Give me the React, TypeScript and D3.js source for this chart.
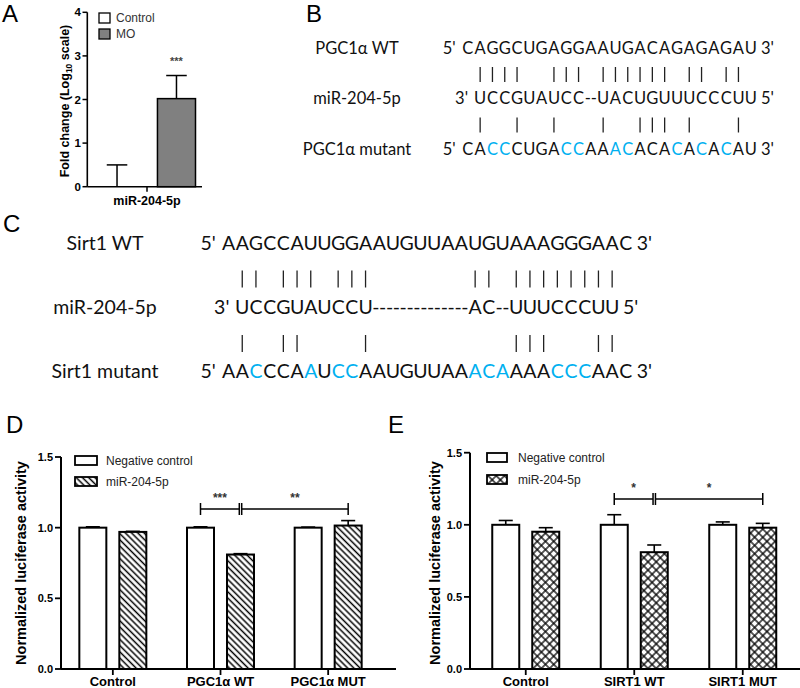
import * as d3 from 'd3';

const FONT_CHART = "'Liberation Sans', Arial, sans-serif";
const FONT_SEQ = "Lato, 'Open Sans', sans-serif";
const BLUE = '#00B0F0';

// ---------- Panel A: miR-204-5p fold change ----------
const aGroups = ['miR-204-5p'];
const aSeries = ['Control', 'MO'];
const aMeans = [0, 2.02];
const aSems = [0.5, 0.53];
const aTicks = [0, 1, 2, 3, 4];
const aSig = '***';

// ---------- Panel B: PGC1a target site ----------
const bLabels = ['PGC1α WT', 'miR-204-5p', 'PGC1α mutant'];
const bWT = 'CAGGCUGAGGAAUGACAGAGAGAU';
const bMir = ' UCCGUAUCC-UACUGUUUCCCUU';
const bMut = 'CACCCUGACCAAACACACACACAU';

// ---------- Panel C: Sirt1 target site ----------
const cLabels = ['Sirt1 WT', 'miR-204-5p', 'Sirt1 mutant'];
const cWT = 'AAGCCAUUGGAAUGUUAAUGUAAAGGGAAC';
const cMir = ' UCCGUAUCCU-------AC-UUUCCCUU';
const cMut = 'AACCCAAUCCAAUGUUAAACAAAACCCAAC';

// ---------- Panels D / E: luciferase ----------
const lucTicks = [0, 0.5, 1.0, 1.5];
const lucLegend = ['Negative control', 'miR-204-5p'];

const dGroups = ['Control', 'PGC1α WT', 'PGC1α MUT'];
const dNC = [1.0, 1.0, 1.0];
const dNCsem = [0.006, 0.006, 0.004];
const dMir = [0.97, 0.81, 1.015];
const dMirSem = [0.004, 0.006, 0.035];
const dSig = [
  { a: [1, 'nc'], b: [1, 'mir'], label: '***' },
  { a: [1, 'mir'], b: [2, 'mir'], label: '**' },
];

const eGroups = ['Control', 'SIRT1 WT', 'SIRT1 MUT'];
const eNC = [1.0, 1.0, 1.0];
const eNCsem = [0.03, 0.07, 0.02];
const eMir = [0.952, 0.81, 0.98];
const eMirSem = [0.028, 0.05, 0.03];
const eSig = [
  { a: [1, 'nc'], b: [1, 'mir'], label: '*' },
  { a: [1, 'mir'], b: [2, 'mir'], label: '*' },
];

const complement: Record<string, string> = { A: 'U', U: 'A', G: 'C', C: 'G' };
const isBase = (ch?: string) => !!ch && 'ACGU'.includes(ch);

// panel letters
const PanelLetter = ({ x, y, t }: { x: number; y: number; t: string }) => (
  <text x={x} y={y} fontFamily={FONT_CHART} fontSize={24} fill="#000">{t}</text>
);

function PanelA() {
  const y = d3.scaleLinear().domain([0, 4]).range([186.7, 12.3]);
  const x = d3.scaleBand().domain(aGroups).range([87.3, 206.7]);
  const inner = d3.scaleBand().domain(aSeries).range([-49, 48.5]).paddingInner(0.36);
  const bw = inner.bandwidth();
  const cx = (x(aGroups[0]) as number) + x.bandwidth() / 2;
  const fills = ['#ffffff', '#808080'];
  return (
    <g fontFamily={FONT_CHART}>
      <PanelLetter x={2} y={22} t="A" />
      {aSeries.map((s, i) => {
        const x0 = cx + (inner(s) as number);
        const mx = x0 + bw / 2;
        const top = y(aMeans[i]);
        const eTop = y(aMeans[i] + aSems[i]);
        return (
          <g key={s}>
            <line x1={mx} x2={mx} y1={top} y2={eTop} stroke="#000" strokeWidth={1.5} />
            <line x1={mx - bw * 0.27} x2={mx + bw * 0.27} y1={eTop} y2={eTop} stroke="#000" strokeWidth={1.5} />
            <rect x={x0} y={top} width={bw} height={y(0) - top} fill={fills[i]} stroke="#000" strokeWidth={1.5} />
            {i === 1 && (
              <text x={mx} y={eTop - 11} textAnchor="middle" fontSize={11} fontWeight="bold" fill="#444">{aSig}</text>
            )}
          </g>
        );
      })}
      {/* axes */}
      <line x1={87.3} x2={87.3} y1={y(4)} y2={y(0)} stroke="#000" strokeWidth={1.6} />
      <line x1={87.3} x2={202} y1={y(0)} y2={y(0)} stroke="#000" strokeWidth={1.6} />
      <line x1={cx} x2={cx} y1={y(0)} y2={y(0) + 5} stroke="#000" strokeWidth={1.5} />
      {aTicks.map((t) => (
        <g key={t}>
          <line x1={82.5} x2={87.3} y1={y(t)} y2={y(t)} stroke="#000" strokeWidth={1.5} />
          <text x={81} y={y(t)} dy="0.36em" textAnchor="end" fontSize={11.5} fontWeight="bold">{t}</text>
        </g>
      ))}
      <text x={cx} y={205} textAnchor="middle" fontSize={12.5} fontWeight="bold">{aGroups[0]}</text>
      <text transform="translate(69,101) rotate(-90)" textAnchor="middle" fontSize={12.5} fontWeight="bold">
        Fold change (Log<tspan dy={3} fontSize={8.5}>10</tspan><tspan dy={-3}> scale)</tspan>
      </text>
      {/* legend */}
      {aSeries.map((s, i) => (
        <g key={s}>
          <rect x={99} y={13 + i * 16} width={11} height={10} fill={fills[i]} stroke="#000" strokeWidth={1.3} />
          <text x={116} y={22 + i * 16} fontSize={12} fill="#333">{s}</text>
        </g>
      ))}
    </g>
  );
}

type SeqLayout = {
  x0: number; pitch: number; fs: number; rows: number[]; labelX: number;
  bar: [number, number]; letter: string; letterX: number; letterY: number;
};

function SeqRow({ seq, ref0, L, y, prefix, suffix }: { seq: string; ref0?: string; L: SeqLayout; y: number; prefix: string; suffix: string }) {
  const left = (c: number) => L.x0 + L.pitch * c;
  const mid = (c: number) => L.x0 + L.pitch * (c + 0.5);
  const first = seq.search(/\S/);
  const last = seq.length - 1;
  // contiguous segments of letters / gaps
  const segs: { gap: boolean; cols: number[] }[] = [];
  for (let i = first; i <= last; i++) {
    const gap = seq[i] === '-';
    const prev = segs[segs.length - 1];
    if (prev && prev.gap === gap) prev.cols.push(i);
    else segs.push({ gap, cols: [i] });
  }
  return (
    <g fontFamily={FONT_SEQ} fontSize={L.fs} fill="#111">
      <text x={left(first) - 6} y={y} textAnchor="end">{prefix}</text>
      {segs.map((sg, k) => {
        if (sg.gap) {
          // two dashes per empty column
          const xs: number[] = [];
          sg.cols.forEach((c) => {
            xs.push(left(c) + L.pitch * 0.25, left(c) + L.pitch * 0.75);
          });
          return (
            <text key={k} x={xs.join(' ')} y={y} textAnchor="middle">{'-'.repeat(xs.length)}</text>
          );
        }
        // colour runs inside the letter segment
        const runs: { cols: number[]; text: string; blue: boolean }[] = [];
        sg.cols.forEach((c) => {
          const blue = !!ref0 && ref0[c] !== seq[c];
          const prev = runs[runs.length - 1];
          if (prev && prev.blue === blue) {
            prev.cols.push(c);
            prev.text += seq[c];
          } else runs.push({ cols: [c], text: seq[c], blue });
        });
        return (
          <text key={k} y={y} textAnchor="middle">
            {runs.map((r, j) => (
              <tspan key={j} x={r.cols.map(mid).join(' ')} fill={r.blue ? BLUE : '#111'}>{r.text}</tspan>
            ))}
          </text>
        );
      })}
      <text x={left(last + 1) + 4} y={y}>{suffix}</text>
    </g>
  );
}

function PairBars({ top, bottom, L, y }: { top: string; bottom: string; L: SeqLayout; y: number }) {
  const cols: number[] = [];
  for (let i = 0; i < Math.max(top.length, bottom.length); i++) {
    if (isBase(top[i]) && isBase(bottom[i]) && complement[top[i]] === bottom[i]) cols.push(i);
  }
  return (
    <g stroke="#222" strokeWidth={1.3}>
      {cols.map((c) => {
        const x = L.x0 + L.pitch * (c + 0.5);
        return <line key={c} x1={x} x2={x} y1={y + L.bar[0]} y2={y + L.bar[1]} />;
      })}
    </g>
  );
}

function SeqPanel({ labels, wt, mir, mut, L }: { labels: string[]; wt: string; mir: string; mut: string; L: SeqLayout }) {
  const [y1, y2, y3] = L.rows;
  return (
    <g>
      <PanelLetter x={L.letterX} y={L.letterY} t={L.letter} />
      {labels.map((lab, i) => (
        <text key={lab} x={L.labelX} y={L.rows[i]} textAnchor="middle" fontFamily={FONT_SEQ} fontSize={L.fs} fill="#111">{lab}</text>
      ))}
      <SeqRow seq={wt} L={L} y={y1} prefix="5'" suffix="3'" />
      <PairBars top={wt} bottom={mir} L={L} y={y1} />
      <SeqRow seq={mir} L={L} y={y2} prefix="3'" suffix="5'" />
      <PairBars top={mir} bottom={mut} L={L} y={y2} />
      <SeqRow seq={mut} ref0={wt} L={L} y={y3} prefix="5'" suffix="3'" />
    </g>
  );
}

const bLayout: SeqLayout = {
  x0: 461.7, pitch: 12.3, fs: 16.5, rows: [53.5, 104, 154.5], labelX: 357,
  bar: [13.5, 28.5], letter: 'B', letterX: 306, letterY: 22,
};
const cLayout: SeqLayout = {
  x0: 221.7, pitch: 13.7, fs: 19.5, rows: [249.5, 314, 378], labelX: 105,
  bar: [21, 38], letter: 'C', letterX: 3, letterY: 232,
};

type LucCfg = {
  letter: string; letterX: number; groups: string[];
  nc: number[]; ncSem: number[]; mir: number[]; mirSem: number[];
  sig: { a: (number | string)[]; b: (number | string)[]; label: string }[];
  pattern: string; axisX: number; axisEnd: number; xRange: [number, number]; yRange: [number, number];
  ylabX: number; legX: number; legY: number[]; legW: number; legTextX: number; bracketY: number;
};

function LucPanel({ c }: { c: LucCfg }) {
  const y = d3.scaleLinear().domain([0, 1.5]).range(c.yRange);
  const x = d3.scaleBand().domain(c.groups).range(c.xRange);
  const inner = d3.scaleBand().domain(['nc', 'mir']).range([-33.5, 33.5]).paddingInner(0.325);
  const bw = inner.bandwidth();
  const gc = (g: string) => (x(g) as number) + x.bandwidth() / 2;
  const barX = (gi: number, s: string) => gc(c.groups[gi]) + (inner(s) as number);
  const barMid = (gi: number, s: string) => barX(gi, s) + bw / 2;
  const series = [
    { key: 'nc', means: c.nc, sems: c.ncSem, fill: '#fff' },
    { key: 'mir', means: c.mir, sems: c.mirSem, fill: `url(#${c.pattern})` },
  ];
  const y0 = y(0);
  return (
    <g fontFamily={FONT_CHART}>
      <PanelLetter x={c.letterX} y={433} t={c.letter} />
      {series.map((s) =>
        c.groups.map((g, gi) => {
          const bx = barX(gi, s.key);
          const mx = bx + bw / 2;
          const top = y(s.means[gi]);
          const eTop = y(s.means[gi] + s.sems[gi]);
          return (
            <g key={s.key + g}>
              <line x1={mx} x2={mx} y1={top} y2={eTop} stroke="#000" strokeWidth={1.6} />
              <line x1={mx - bw * 0.26} x2={mx + bw * 0.26} y1={eTop} y2={eTop} stroke="#000" strokeWidth={1.6} />
              <rect x={bx} y={top} width={bw} height={y0 - top} fill={s.fill} stroke="#000" strokeWidth={2} />
            </g>
          );
        })
      )}
      {/* axes */}
      <line x1={c.axisX} x2={c.axisX} y1={y(1.5)} y2={y0} stroke="#000" strokeWidth={2} />
      <line x1={c.axisX} x2={c.axisEnd} y1={y0} y2={y0} stroke="#000" strokeWidth={2} />
      {lucTicks.map((t) => (
        <g key={t}>
          <line x1={c.axisX - 6} x2={c.axisX} y1={y(t)} y2={y(t)} stroke="#000" strokeWidth={1.8} />
          <text x={c.axisX - 8} y={y(t)} dy="0.36em" textAnchor="end" fontSize={11} fontWeight="bold">{d3.format('.1f')(t)}</text>
        </g>
      ))}
      {c.groups.map((g) => (
        <g key={g}>
          <line x1={gc(g)} x2={gc(g)} y1={y0} y2={y0 + 6} stroke="#000" strokeWidth={1.8} />
          <text x={gc(g)} y={686} textAnchor="middle" fontSize={13} fontWeight="bold">{g}</text>
        </g>
      ))}
      <text transform={`translate(${c.ylabX},563) rotate(-90)`} textAnchor="middle" fontSize={14.5} fontWeight="bold">
        Normalized luciferase activity
      </text>
      {/* significance brackets */}
      {c.sig.map((s, i) => {
        const x1 = barMid(s.a[0] as number, s.a[1] as string) + (i > 0 ? 1.2 : 0);
        const x2 = barMid(s.b[0] as number, s.b[1] as string) - (i === 0 ? 1.2 : 0);
        const by = c.bracketY;
        return (
          <g key={i}>
            <line x1={x1} x2={x2} y1={by} y2={by} stroke="#000" strokeWidth={1.5} />
            <line x1={x1} x2={x1} y1={by - 6} y2={by + 6} stroke="#000" strokeWidth={1.5} />
            <line x1={x2} x2={x2} y1={by - 6} y2={by + 6} stroke="#000" strokeWidth={1.5} />
            <text x={(x1 + x2) / 2} y={by - 7} textAnchor="middle" fontSize={12} fontWeight="bold" fill="#333">{s.label}</text>
          </g>
        );
      })}
      {/* legend */}
      {lucLegend.map((name, i) => (
        <g key={name}>
          <rect x={c.legX} y={c.legY[i]} width={c.legW} height={9} fill={series[i].fill} stroke="#000" strokeWidth={1.8} />
          <text x={c.legTextX} y={c.legY[i] + 8.5} fontSize={12} fill="#222">{name}</text>
        </g>
      ))}
    </g>
  );
}

const dCfg: LucCfg = {
  letter: 'D', letterX: 6, groups: dGroups, nc: dNC, ncSem: dNCsem, mir: dMir, mirSem: dMirSem, sig: dSig,
  pattern: 'hatchD', axisX: 61, axisEnd: 396, xRange: [59, 382], yRange: [669, 457],
  ylabX: 26, legX: 75, legY: [456, 477], legW: 22, legTextX: 106, bracketY: 509,
};
const eCfg: LucCfg = {
  letter: 'E', letterX: 388, groups: eGroups, nc: eNC, ncSem: eNCsem, mir: eMir, mirSem: eMirSem, sig: eSig,
  pattern: 'crossE', axisX: 470, axisEnd: 800, xRange: [471.5, 797], yRange: [669, 452.7],
  ylabX: 440, legX: 487, legY: [453, 475], legW: 20, legTextX: 518, bracketY: 499,
};

export default function App() {
  return (
    <div style={{ position: 'absolute', left: 0, top: 0 }}>
      <svg width={800} height={688} viewBox="0 0 800 688" style={{ display: 'block', background: '#fff' }}>
        <defs>
          <pattern id="hatchD" patternUnits="userSpaceOnUse" width={4.4} height={10} patternTransform="rotate(-45)">
            <rect width={4.4} height={10} fill="#fff" />
            <line x1={2.2} x2={2.2} y1={0} y2={10} stroke="#000" strokeWidth={1.5} />
          </pattern>
          <pattern id="crossE" patternUnits="userSpaceOnUse" width={5.8} height={5.8} patternTransform="rotate(45)">
            <rect width={5.8} height={5.8} fill="#fff" />
            <line x1={2.9} x2={2.9} y1={0} y2={5.8} stroke="#000" strokeWidth={1.3} />
            <line x1={0} x2={5.8} y1={2.9} y2={2.9} stroke="#000" strokeWidth={1.3} />
          </pattern>
        </defs>
        <PanelA />
        <SeqPanel labels={bLabels} wt={bWT} mir={bMir} mut={bMut} L={bLayout} />
        <SeqPanel labels={cLabels} wt={cWT} mir={cMir} mut={cMut} L={cLayout} />
        <LucPanel c={dCfg} />
        <LucPanel c={eCfg} />
      </svg>
    </div>
  );
}
